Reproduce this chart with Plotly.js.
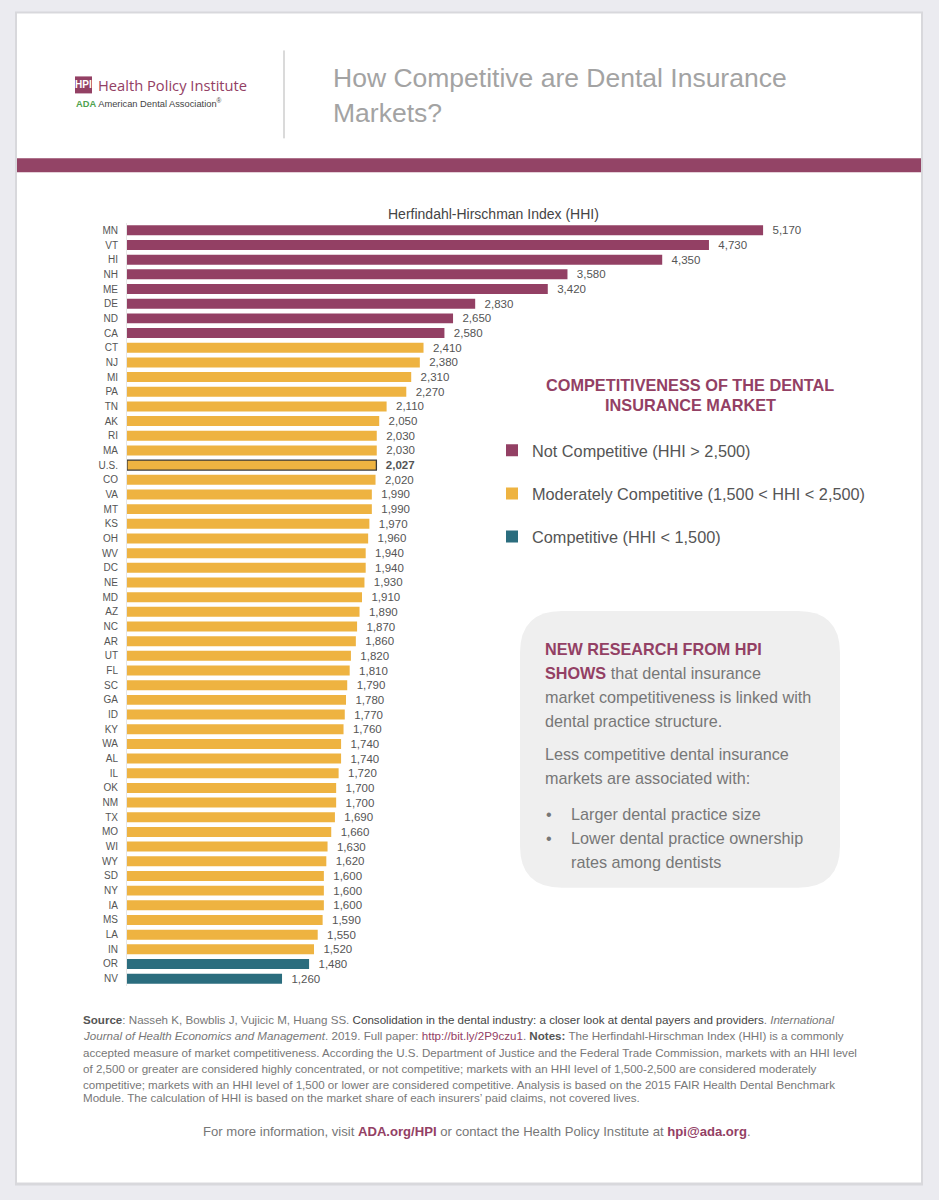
<!DOCTYPE html>
<html>
<head>
<meta charset="utf-8">
<script src="https://cdn.plot.ly/plotly-3.0.1.min.js"></script>
<style>html,body{margin:0;padding:0;background:#ebebf0;}#chart{width:939px;height:1200px;}</style>
</head>
<body>
<div id="chart"></div>
<script>
// ---------------- DATA ----------------
const states = ["MN","VT","HI","NH","ME","DE","ND","CA","CT","NJ","MI","PA","TN","AK","RI","MA","U.S.","CO","VA","MT","KS","OH","WV","DC","NE","MD","AZ","NC","AR","UT","FL","SC","GA","ID","KY","WA","AL","IL","OK","NM","TX","MO","WI","WY","SD","NY","IA","MS","LA","IN","OR","NV"];
const hhi = [5170,4730,4350,3580,3420,2830,2650,2580,2410,2380,2310,2270,2110,2050,2030,2030,2027,2020,1990,1990,1970,1960,1940,1940,1930,1910,1890,1870,1860,1820,1810,1790,1780,1770,1760,1740,1740,1720,1700,1700,1690,1660,1630,1620,1600,1600,1600,1590,1550,1520,1480,1260];
const groupNames = ["Not Competitive (HHI > 2,500)","Moderately Competitive (1,500 < HHI < 2,500)","Competitive (HHI < 1,500)"];
const groupColors = ["#934064","#eeb341","#2b6d7e"];
const thresholds = [2500,1500];
const usLabel = "U.S.";

// ---------------- HELPERS ----------------
const L=127, R=816, T=222.7, B=986.3;
const px = x => (x-L)/(R-L);
const py = y => (B-y)/(B-T);
const fmt = v => v.toLocaleString('en-US');
const NB = '\u00a0\u00a0';

function groupOf(v){ return v>thresholds[0]?0:(v>=thresholds[1]?1:2); }

const traces = groupNames.map((name,gi)=>{
  const ys=[], xs=[], txt=[], lc=[], lw=[];
  states.forEach((s,i)=>{
    if(groupOf(hhi[i])!==gi) return;
    ys.push(s); xs.push(hhi[i]);
    const isUS = s===usLabel;
    txt.push(NB + (isUS?'<b>'+fmt(hhi[i])+'</b>':fmt(hhi[i])));
    lc.push(isUS?'#3a3a3a':'rgba(0,0,0,0)');
    lw.push(isUS?1.3:0);
  });
  return {
    type:'bar', orientation:'h', name:name, x:xs, y:ys, text:txt,
    textposition:'outside', cliponaxis:false, constraintext:'none', width:0.68,
    textfont:{family:'Liberation Sans, Arial, sans-serif', size:11.5, color:'#555'},
    marker:{color:groupColors[gi], line:{color:lc, width:lw}},
    hoverinfo:'y+x', legendgroup:'g'+gi, showlegend:true
  };
});

const MAROON='#934064', GRAY='#777';
const ann = [];
function A(x,y,text,opt){ ann.push(Object.assign({xref:'paper',yref:'paper',x:px(x),y:py(y),text:text,showarrow:false,xanchor:'left',yanchor:'middle',font:{family:'Liberation Sans, Arial, sans-serif',size:14,color:GRAY}},opt||{})); }

// header
A(83.5,84.5,'<b>HPI</b>',{xanchor:'center',font:{family:'Liberation Sans Narrow, Liberation Sans, Arial',size:10,color:'#fff'}});
A(96,85,'Health Policy Institute',{font:{family:'Open Sans, sans-serif',size:14.7,color:MAROON}});
A(74,103,'<b><span style="color:#4ea24e">ADA</span></b> American Dental Association<sup>®</sup>',{font:{family:'Liberation Sans Narrow, Liberation Sans, Arial',size:9.3,color:'#444'}});
A(331,78,'How Competitive are Dental Insurance',{font:{family:'Liberation Sans, Arial',size:26.5,color:'#a3a3a3'}});
A(331,113,'Markets?',{font:{family:'Liberation Sans, Arial',size:26.5,color:'#a3a3a3'}});

// axis title
A(493,214,'Herfindahl-Hirschman Index (HHI)',{xanchor:'center',font:{family:'Liberation Sans, Arial',size:14,color:'#444'}});

// legend heading
A(690,385,'<b>COMPETITIVENESS OF THE DENTAL</b>',{xanchor:'center',font:{family:'Liberation Sans, Arial',size:16.3,color:MAROON}});
A(690,405,'<b>INSURANCE MARKET</b>',{xanchor:'center',font:{family:'Liberation Sans, Arial',size:16.3,color:MAROON}});

// research box
const bf={family:'Liberation Sans, Arial',size:16.2,color:GRAY};
A(543,649,'<b><span style="color:'+MAROON+'">NEW RESEARCH FROM HPI</span></b>',{font:bf});
A(543,673,'<b><span style="color:'+MAROON+'">SHOWS</span></b> that dental insurance',{font:bf});
A(543,697,'market competitiveness is linked with',{font:bf});
A(543,721,'dental practice structure.',{font:bf});
A(543,754,'Less competitive dental insurance',{font:bf});
A(543,778,'markets are associated with:',{font:bf});
A(544,814,'•',{font:bf});
A(569,814,'Larger dental practice size',{font:bf});
A(544,838,'•',{font:bf});
A(569,838,'Lower dental practice ownership',{font:bf});
A(569,862,'rates among dentists',{font:bf});

// footer
const ff={family:'Liberation Sans Narrow, Arial Narrow, Liberation Sans, Arial',size:11.6,color:GRAY};
const footLines=[
 '<b><span style="color:#555">Source</span></b>: Nasseh K, Bowblis J, Vujicic M, Huang SS. <span style="color:#444">Consolidation in the dental industry: a closer look at dental payers and providers</span>. <i>International</i>',
 '<i>Journal of Health Economics and Management</i>. 2019. Full paper: <span style="color:'+MAROON+'">http://bit.ly/2P9czu1</span>. <b><span style="color:#555">Notes:</span></b> The Herfindahl-Hirschman Index (HHI) is a commonly',
 'accepted measure of market competitiveness. According the U.S. Department of Justice and the Federal Trade Commission, markets with an HHI level',
 'of 2,500 or greater are considered highly concentrated, or not competitive; markets with an HHI level of 1,500-2,500 are considered moderately',
 'competitive; markets with an HHI level of 1,500 or lower are considered competitive. Analysis is based on the 2015 FAIR Health Dental Benchmark',
 'Module. The calculation of HHI is based on the market share of each insurers\u2019 paid claims, not covered lives.'
];
const footY=[1020,1036,1053,1069,1085,1098];
footLines.forEach((t,i)=>A(81,footY[i],t,{font:ff}));
A(477,1132,'For more information, visit <b><span style="color:'+MAROON+'">ADA.org/HPI</span></b> or contact the Health Policy Institute at <b><span style="color:'+MAROON+'">hpi@ada.org</span></b>.',{xanchor:'center',font:{family:'Liberation Sans Narrow, Arial Narrow, Liberation Sans, Arial',size:13.1,color:GRAY}});

// shapes
function rect(x0,y0,x1,y1,fill,extra){ return Object.assign({type:'rect',xref:'paper',yref:'paper',x0:px(x0),x1:px(x1),y0:py(y1),y1:py(y0),fillcolor:fill,line:{width:0},layer:'below'},extra||{}); }
function roundRect(x0,y0,x1,y1,r,fill){
  const P=(x,y)=>px(x).toFixed(5)+','+py(y).toFixed(5);
  const d='M'+P(x0+r,y0)+' L'+P(x1-r,y0)+' Q'+P(x1,y0)+' '+P(x1,y0+r)+' L'+P(x1,y1-r)+' Q'+P(x1,y1)+' '+P(x1-r,y1)+' L'+P(x0+r,y1)+' Q'+P(x0,y1)+' '+P(x0,y1-r)+' L'+P(x0,y0+r)+' Q'+P(x0,y0)+' '+P(x0+r,y0)+' Z';
  return {type:'path',xref:'paper',yref:'paper',path:d,fillcolor:fill,line:{width:0},layer:'below'};
}
const shapes=[
  rect(15,11,923,1186,'#d8d8dc'),
  rect(17,13,921,1183,'#ffffff'),
  rect(17,158,921,172,'#934466'),
  {type:'line',xref:'paper',yref:'paper',x0:px(284),x1:px(284),y0:py(50),y1:py(138),line:{color:'#b5b5b5',width:1}},
  rect(75,76,92,93,MAROON),
  roundRect(520,611,840,888,42,'#efefef')
];

const layout={
  width:939,height:1200,
  margin:{l:L,r:939-R,t:T,b:1200-B,pad:0},
  paper_bgcolor:'#ebebf0',plot_bgcolor:'rgba(0,0,0,0)',
  barmode:'overlay',bargap:0.32,
  font:{family:'Liberation Sans, Arial, sans-serif',color:'#555'},
  xaxis:{range:[0,5600],showgrid:false,zeroline:false,showticklabels:false,showline:false,fixedrange:true},
  yaxis:{type:'category',categoryorder:'array',categoryarray:states,range:[states.length-0.5,-0.5],showgrid:false,zeroline:false,showline:true,linecolor:'#e6e6e6',linewidth:1,ticks:'',ticklabelstandoff:6,tickfont:{size:10,color:'#555'},fixedrange:true},
  showlegend:true,
  legend:{x:px(492),y:py(433),xanchor:'left',yanchor:'top',traceorder:'grouped',tracegroupgap:19,bgcolor:'rgba(0,0,0,0)',font:{family:'Liberation Sans, Arial',size:16.3,color:'#555'},itemwidth:30},
  annotations:ann, shapes:shapes
};
Plotly.newPlot('chart',traces,layout,{displayModeBar:false,staticPlot:true});
</script>
</body>
</html>
